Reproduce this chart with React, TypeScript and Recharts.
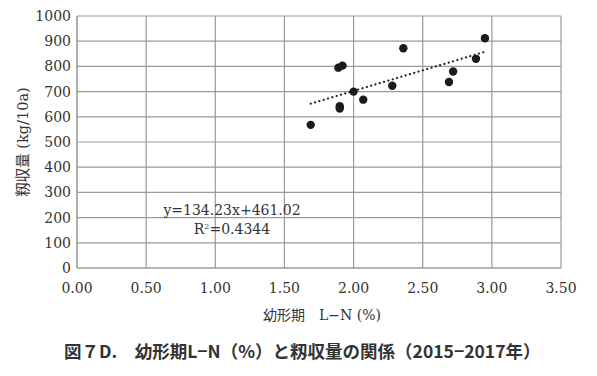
import { CartesianGrid, Customized, ReferenceLine, Scatter, ScatterChart, XAxis, YAxis } from "recharts";

const lnPercent = [1.69, 1.9, 1.9, 1.89, 1.92, 2.0, 2.07, 2.28, 2.36, 2.69, 2.72, 2.885, 2.95];
const yieldKg = [568, 642, 633, 795, 803, 700, 668, 723, 872, 738, 780, 830, 912];

const xTicks = [0, 0.5, 1, 1.5, 2, 2.5, 3, 3.5];
const yTicks = [0, 100, 200, 300, 400, 500, 600, 700, 800, 900, 1000];

const trendStart = { x: 1.69, y: 652 };
const trendEnd = { x: 2.95, y: 858 };
const equation = "y=134.23x+461.02";
const rSquared = "0.4344";
const yTitle = "籾収量 (kg/10a)";
const xTitle = "幼形期　L−N (%)";

const points = lnPercent.map((x, i) => ({ x, y: yieldKg[i] }));

const SERIF = "DejaVu Serif, Noto Sans CJK JP, serif";
const GRID = "#9a9a9a";
const INK = "#333";

function Annotation() {
  return (
    <g fontFamily={SERIF} fill={INK} textAnchor="middle">
      <text x={232} y={215} fontSize={14}>{equation}</text>
      <text x={232} y={234} fontSize={14}>
        R<tspan dy={-5} fontSize={8}>2</tspan>
        <tspan dy={5}>={rSquared}</tspan>
      </text>
      <text x={0} y={0} fontSize={14.5} transform="translate(28 142) rotate(-90)">{yTitle}</text>
      <text x={322} y={320} fontSize={14}>{xTitle}</text>
    </g>
  );
}

const renderXTick = (p: any) => (
  <text
    key={`x-${p.index}`}
    x={p.x}
    y={p.y}
    dy="0.71em"
    textAnchor="middle"
    fill={INK}
    style={{ fontFamily: SERIF, fontSize: 14 }}
  >
    {Number(p.payload.value).toFixed(2)}
  </text>
);

const renderYTick = (p: any) => (
  <text
    key={`y-${p.index}`}
    x={p.x}
    y={p.y}
    dy="0.36em"
    textAnchor="end"
    fill={INK}
    style={{ fontFamily: SERIF, fontSize: 14 }}
  >
    {p.payload.value}
  </text>
);

export default function App() {
  return (
    <div style={{ position: "absolute", left: 0, top: 0, width: 597, height: 376, background: "#fff" }}>
      <ScatterChart width={597} height={376} margin={{ top: 16, right: 36, bottom: 78, left: 17 }}>
        <CartesianGrid stroke={GRID} strokeWidth={1.2} />
        <XAxis
          type="number"
          dataKey="x"
          domain={[0, 3.5]}
          ticks={xTicks}
          height={30}
          stroke={GRID}
          tickLine={false}
          tickSize={6}
          tickMargin={9}
          tick={renderXTick}
        />
        <YAxis
          type="number"
          dataKey="y"
          domain={[0, 1000]}
          ticks={yTicks}
          width={60}
          stroke={GRID}
          tickLine={false}
          tickSize={4}
          tickMargin={2}
          tick={renderYTick}
        />
        <ReferenceLine
          segment={[trendStart, trendEnd]}
          stroke="#222"
          strokeWidth={2.2}
          strokeDasharray="0.1 4.4"
          strokeLinecap="round"
        />
        <Scatter data={points} fill="#1a1a1a" isAnimationActive={false} shape={(p: any) => <circle cx={p.cx} cy={p.cy} r={4.2} fill="#1a1a1a" />} />
        <Customized component={Annotation} />
      </ScatterChart>
      <div
        style={{
          position: "absolute",
          left: 64,
          top: 338,
          fontFamily: "'Noto Sans CJK JP', sans-serif",
          fontWeight: 700,
          fontSize: 17.5,
          color: INK,
          whiteSpace: "nowrap",
        }}
      >
        図７D.　幼形期L−N（%）と籾収量の関係（2015−2017年）
      </div>
    </div>
  );
}
